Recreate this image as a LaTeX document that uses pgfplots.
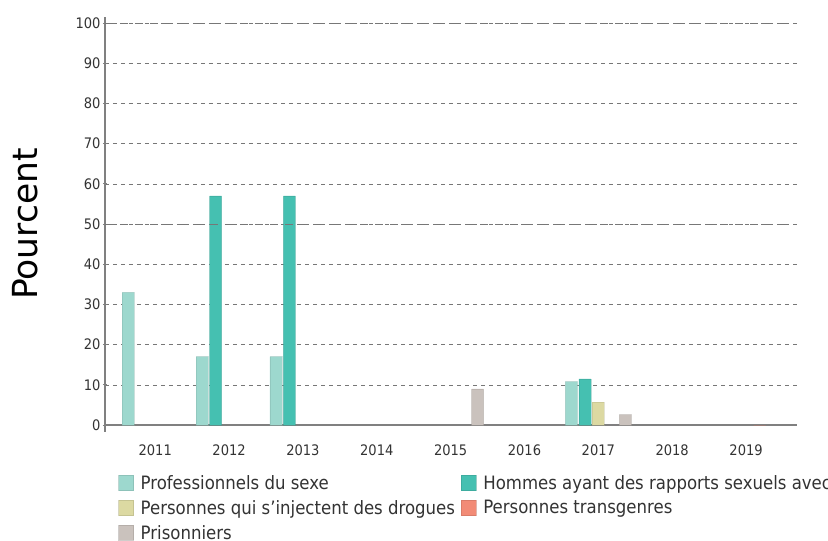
\documentclass[border=0pt]{standalone}
\usepackage{pgfplots}
\pgfplotsset{compat=1.18}
\usepackage{fontspec}
\setmainfont{DejaVu Sans Condensed}
\newfontfamily\labelfont{DejaVu Sans}
\definecolor{cPS}{HTML}{9DD8CE}
\definecolor{cHSH}{HTML}{45C0B1}
\definecolor{cPWID}{HTML}{DCD9A2}
\definecolor{cTG}{HTML}{F28B76}
\definecolor{cPR}{HTML}{CAC2BD}
\definecolor{grid}{HTML}{777777}
\definecolor{axisc}{HTML}{808080}
\definecolor{txt}{HTML}{333333}
\begin{document}
\begin{tikzpicture}
\begin{axis}[
  scale only axis,
  width=692bp, height=408bp,
  xmin=-0.68, xmax=8.69,
  ymin=0, ymax=101.5,
  xtick={0,1,2,3,4,5,6,7,8},
  xticklabels={2011,2012,2013,2014,2015,2016,2017,2018,2019},
  ytick={0,10,20,30,40,50,60,70,80,90,100},
  /pgf/number format/assume math mode=true,
  tick label style={font=\fontsize{14.5bp}{16bp}\selectfont, text=txt},
  xticklabel style={yshift=-12bp},
  yticklabel style={xshift=1bp},
  x tick style={draw=none},
  y tick style={draw=axisc, line width=1pt},
  tick align=outside,
  major tick length=4bp,
  axis x line=bottom, axis y line=left,
  axis line style={draw=axisc, line width=1.5pt, -},
  ymajorgrids,
  grid style={draw=grid, line width=0.6pt, dash pattern=on 4bp off 4bp},
  ylabel={\labelfont\fontsize{34.5bp}{36bp}\selectfont Pourcent},
  ylabel style={at={(axis description cs:-0.1156,0.4926)}, anchor=center, text=black},
  ybar, bar width=12bp,
  legend columns=2,
  legend cell align=left,
  legend style={at={(axis description cs:0.019,-0.118)}, anchor=north west, draw=none, fill=none,
    font=\fontsize{18.4bp}{20bp}\selectfont, text=txt,
    /tikz/every even column/.append style={column sep=4bp},
    row sep=5.5bp, inner sep=0pt},
  legend image code/.code={\draw[#1, draw opacity=0.5] (0bp,-7.5bp) rectangle (15bp,8bp); \path (20bp,0bp);},
  clip=false,
]
\addplot[draw=cPS!80!black, draw opacity=0.35, fill=cPS, bar shift=-27bp] coordinates {(0,33) (1,17) (2,17) (6,10.8)};
\addlegendentry{Professionnels du sexe}
\addplot[draw=cHSH!80!black, draw opacity=0.35, fill=cHSH, bar shift=-13.5bp] coordinates {(1,57) (2,57) (6,11.5)};
\addlegendentry{Hommes ayant des rapports sexuels avec des hommes}
\addplot[draw=cPWID!80!black, draw opacity=0.35, fill=cPWID, bar shift=0bp] coordinates {(6,5.6)};
\addlegendentry{Personnes qui s’injectent des drogues}
\addplot[draw=cTG!80!black, draw opacity=0.35, fill=cTG, bar shift=13.5bp] coordinates {(8,0)};
\addlegendentry{Personnes transgenres}
\addplot[draw=cPR!80!black, draw opacity=0.35, fill=cPR, bar shift=27bp] coordinates {(4,9) (6,2.6)};
\addlegendentry{Prisonniers}
\draw[grid, line width=0.9pt, dash pattern=on 8bp off 7bp] (axis cs:-0.68,50) -- (axis cs:8.69,50);
\draw[grid, line width=0.9pt, dash pattern=on 8bp off 7bp] (axis cs:-0.68,100) -- (axis cs:8.69,100);
\draw[axisc, line width=1.5pt] (axis cs:-0.68,0) -- ([yshift=-7bp]axis cs:-0.68,0);
\end{axis}
\pgfresetboundingbox
\path[use as bounding box] (-105bp,-116bp) rectangle (723bp,425bp);
\end{tikzpicture}
\end{document}
